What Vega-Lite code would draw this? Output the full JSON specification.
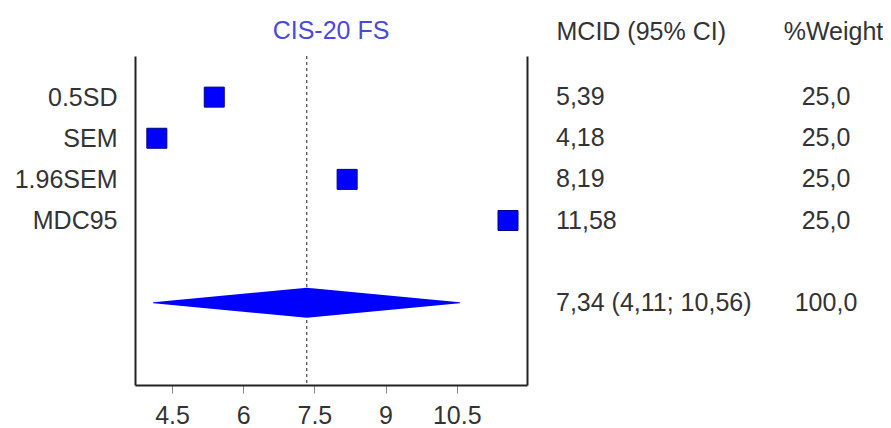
{
  "$schema": "https://vega.github.io/schema/vega-lite/v6.json",
  "padding": {"left": 14, "top": 18, "right": 0, "bottom": 0},
  "config": {"font": "Liberation Sans", "view": {"stroke": null}, "concat": {"spacing": 29}},
  "datasets": {
    "rows": [
      {"label": "0.5SD", "est": 5.39, "ci": "5,39", "weight": "25,0"},
      {"label": "SEM", "est": 4.18, "ci": "4,18", "weight": "25,0"},
      {"label": "1.96SEM", "est": 8.19, "ci": "8,19", "weight": "25,0"},
      {"label": "MDC95", "est": 11.58, "ci": "11,58", "weight": "25,0"},
      {"label": "Pooled", "est": 7.34, "lo": 4.11, "hi": 10.56, "ci": "7,34 (4,11; 10,56)", "weight": "100,0"}
    ]
  },
  "data": {"name": "rows"},
  "resolve": {"scale": {"x": "independent", "y": "independent"}},
  "hconcat": [
    {
      "width": 392,
      "height": 329,
      "title": {"text": "CIS-20 FS", "color": "#4a4ad8", "fontSize": 25, "fontWeight": "normal", "offset": 12},
      "resolve": {"axis": {"y": "independent"}},
      "layer": [
        {
          "transform": [{"filter": "datum.label === 'Pooled'"}],
          "mark": {"type": "rule", "color": "#222222", "strokeDash": [3, 3], "strokeWidth": 1},
          "encoding": {"x": {"field": "est", "type": "quantitative", "title": null}}
        },
        {
          "transform": [{"filter": "datum.label !== 'Pooled'"}],
          "mark": {"type": "point", "shape": "square", "size": 400, "filled": true, "fill": "#0000ff", "stroke": "#000080", "strokeWidth": 1, "opacity": 1},
          "encoding": {
            "x": {
              "field": "est", "type": "quantitative", "title": null,
              "scale": {"domain": [3.72, 11.98], "nice": false, "zero": false},
              "axis": {"values": [4.5, 6, 7.5, 9, 10.5], "format": ".1~f", "domainColor": "#222222", "domainWidth": 2, "tickColor": "#888888", "tickSize": 8, "tickWidth": 1, "labelFontSize": 25, "labelColor": "#333333", "labelPadding": 10, "grid": false, "labelFlush": false, "labelOverlap": false}
            },
            "y": {
              "field": "label", "type": "nominal", "title": null,
              "scale": {"type": "point", "domain": [" ", "0.5SD", "SEM", "1.96SEM", "MDC95", "", "Pooled", "  ", "   "], "padding": 0},
              "axis": {"orient": "left", "values": ["0.5SD", "SEM", "1.96SEM", "MDC95"], "ticks": false, "domain": true, "domainColor": "#222222", "domainWidth": 2, "labelFontSize": 25, "labelColor": "#333333", "labelPadding": 18, "grid": false}
            }
          }
        },
        {
          "transform": [{"filter": "datum.label === 'Pooled'"}, {"fold": ["lo", "est", "hi"], "as": ["part", "value"]}],
          "mark": {"type": "trail", "color": "#0000ff", "opacity": 1},
          "encoding": {
            "x": {"field": "value", "type": "quantitative", "title": null},
            "y": {"field": "label", "type": "nominal", "title": null, "axis": {"orient": "right", "labels": false, "ticks": false, "domain": true, "domainColor": "#222222", "domainWidth": 2, "grid": false}},
            "size": {"field": "part", "type": "ordinal", "scale": {"type": "ordinal", "domain": ["lo", "est", "hi"], "range": [0, 30, 0]}, "legend": null}
          }
        }
      ]
    },
    {
      "width": 270,
      "height": 329,
      "layer": [
        {
          "mark": {"type": "text", "align": "left", "baseline": "middle", "fontSize": 25, "color": "#333333"},
          "encoding": {
            "y": {"field": "label", "type": "nominal", "scale": {"type": "point", "domain": [" ", "0.5SD", "SEM", "1.96SEM", "MDC95", "", "Pooled", "  ", "   "], "padding": 0}, "axis": null},
            "x": {
              "datum": "MCID (95% CI)", "type": "nominal",
              "scale": {"type": "point", "domain": ["MCID (95% CI)", "%Weight"], "padding": 0},
              "axis": {"orient": "top", "title": null, "domain": false, "ticks": false, "labelAngle": 0, "labelFontSize": 25, "labelColor": "#333333", "labelPadding": 12, "labelAlign": {"condition": {"test": "datum.value === '%Weight'", "value": "center"}, "value": "left"}, "labelOffset": {"condition": {"test": "datum.value === '%Weight'", "value": 7}, "value": 0}}
            },
            "text": {"field": "ci"}
          }
        },
        {
          "mark": {"type": "text", "align": "center", "baseline": "middle", "fontSize": 25, "color": "#333333"},
          "encoding": {
            "y": {"field": "label", "type": "nominal"},
            "x": {"datum": "%Weight", "type": "nominal"},
            "text": {"field": "weight"}
          }
        }
      ]
    }
  ]
}
